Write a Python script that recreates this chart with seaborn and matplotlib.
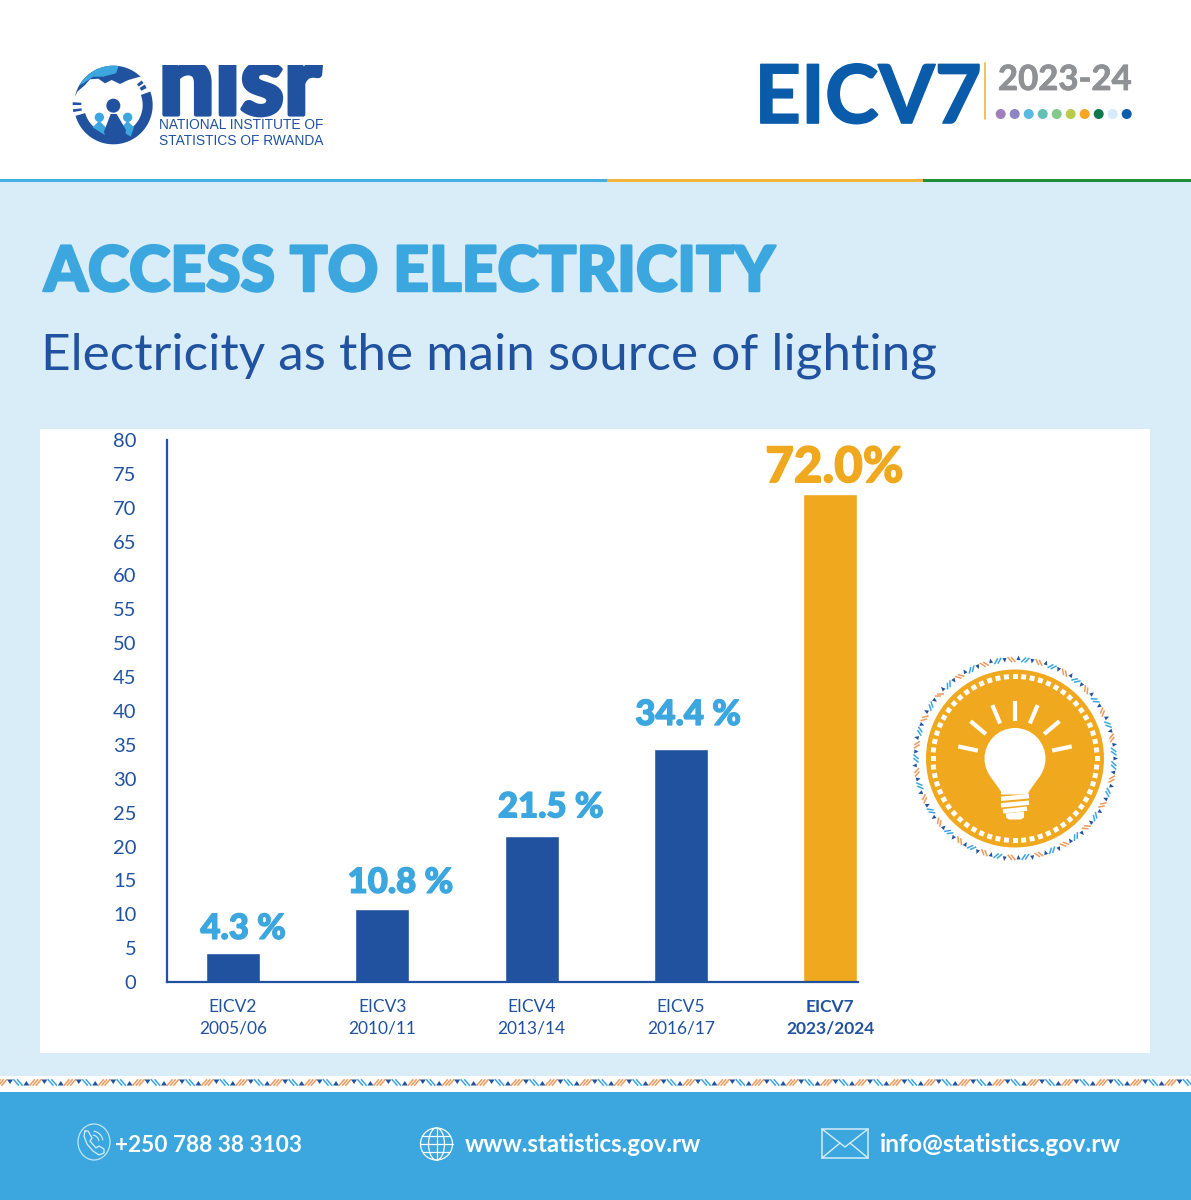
import numpy as np
import pandas as pd
import matplotlib
matplotlib.use("Agg")
import matplotlib.pyplot as plt
import matplotlib.patheffects as pe
from matplotlib.patches import Circle, Ellipse, Polygon, Rectangle
from matplotlib.transforms import Affine2D
import seaborn as sns

# Survey results
surveys = ["EICV2", "EICV3", "EICV4", "EICV5", "EICV7"]
periods = ["2005/06", "2010/11", "2013/14", "2016/17", "2023/2024"]
electricity_share = [4.3, 10.8, 21.5, 34.4, 72.0]
y_ticks = list(range(0, 85, 5))

# Nudges for the value labels, in pixels from each bar's top centre
label_dx = [10, 18, 19, 7, 4]
label_dy = [-8, -10, -13, -18, -4]

# Palette
NAVY = "#2152a0"
SKY = "#3ca6df"
PALE = "#d8edf8"
AMBER = "#f0a81f"
ROYAL = "#0a5cab"
ORANGE_STRIPE = "#ee9a5c"
DOT_COLOURS = ["#a07fbd", "#8d84c5", "#5bb8e0", "#62c0b5", "#82c98a",
               "#bcca4b", "#f6a623", "#0a7a4d", "#d4ecf9", "#0b5cab"]

sns.set_theme(style="white")
plt.rcParams["font.family"] = ["Lato", "DejaVu Sans"]

W, H = 1191, 1200
fig = plt.figure(figsize=(W / 100, H / 100), dpi=100, facecolor="white")

# Page layer, measured in pixels from the top-left corner
page = fig.add_axes([0, 0, 1, 1])
page.set_xlim(0, W)
page.set_ylim(H, 0)
page.axis("off")


def thick(colour, width):
    return [pe.withStroke(linewidth=width, foreground=colour)]


def rect(x0, y0, x1, y1, colour, z=1):
    page.add_patch(Rectangle((x0, y0), x1 - x0, y1 - y0, fc=colour, ec="none", zorder=z))


def arc_band(cx, cy, r_out, r_in, a0, a1):
    t = np.radians(np.linspace(a0, a1, 50))
    outer = np.c_[cx + r_out * np.cos(t), cy - r_out * np.sin(t)]
    inner = np.c_[cx + r_in * np.cos(t[::-1]), cy - r_in * np.sin(t[::-1])]
    return np.vstack([outer, inner])


# Page bands
rect(0, 182, W, 1076, PALE)
rect(0, 179, 607, 182, "#45aee4", 2)
rect(607, 179, 923, 182, "#f3b33d", 2)
rect(923, 179, W, 182, "#1f8f3a", 2)
rect(40, 429, 1150, 1053, "white")
rect(0, 1092, W, H, SKY)


def strokes(cx, cy, lean, colour, offsets, size=4.0):
    # Short parallel strokes of the woven band
    for dx in offsets:
        page.plot([cx + dx + lean * size, cx + dx - lean * size],
                  [cy + size * 0.8, cy - size * 0.8],
                  color=colour, lw=1.1, solid_capstyle="butt", zorder=3)


# Woven strip above the footer
for x in np.arange(-8, W + 30, 34.4):
    page.add_patch(Polygon([(x - 3, 1085.5), (x + 3, 1085.5), (x, 1081)], fc=NAVY, ec="none", zorder=3))
    strokes(x + 9, 1082.5, -0.7, ORANGE_STRIPE, (-3.2, 0, 3.2))
    page.add_patch(Polygon([(x + 15, 1079.5), (x + 21, 1079.5), (x + 18, 1084)], fc=NAVY, ec="none", zorder=3))
    strokes(x + 26, 1082.5, 0.7, SKY, (-1.8, 1.8))

# Institute emblem, laid out on a 3:1 grid
emblem = Affine2D().scale(1 / 3).translate(40, 30) + page.transData
ecx, ecy = 220, 225


def emblem_poly(points, colour, z=3):
    page.add_patch(Polygon(points, closed=True, fc=colour, ec="none", zorder=z, transform=emblem))


emblem_poly(arc_band(ecx, ecy, 118, 88, 196, 360 + 20), NAVY)
for a0, a1 in ((27, 33), (36, 41)):
    emblem_poly(arc_band(ecx, ecy, 112, 94, a0, a1), NAVY)
for a0, a1 in ((186, 190), (176, 180)):
    emblem_poly(arc_band(ecx, ecy, 122, 96, a0, a1), NAVY)
dome_arc = arc_band(ecx, ecy, 118, 118, 45, 168)[:50]
emblem_poly(np.vstack([dome_arc, [(112, 185), (135, 165), (150, 148), (175, 146), (195, 160),
                                  (215, 150), (240, 162), (265, 150), (300, 140)]]), NAVY)
light_arc = arc_band(ecx, ecy, 118, 118, 83, 150)[:50]
emblem_poly(np.vstack([light_arc, [(130, 160), (160, 140), (190, 140), (228, 130), (236, 108)]]), SKY, 4)
for hx in (178, 263):
    page.add_patch(Circle((hx, 262), 14, fc=SKY, ec="none", zorder=4, transform=emblem))
emblem_poly([(158, 292), (178, 272), (205, 300), (205, 322)], SKY, 4)
emblem_poly([(282, 292), (262, 272), (240, 300), (272, 320)], SKY, 4)
page.add_patch(Circle((220, 227), 21, fc=NAVY, ec="none", zorder=5, transform=emblem))
emblem_poly([(192, 305), (212, 252), (230, 252), (258, 300), (250, 338), (200, 338)], NAVY, 5)

# Wordmark: the letters share one flat top edge
page.text(240, 86, "nisr", color=NAVY, fontsize=71, fontweight="black", ha="center", va="center",
          zorder=3, path_effects=thick(NAVY, 3))
rect(150, 20, 335, 64.5, "white", 4)
page.text(241, 125, "NATIONAL INSTITUTE OF", color=NAVY, fontsize=9.9, family="Liberation Sans",
          ha="center", va="center", zorder=3)
page.text(241, 141, "STATISTICS OF RWANDA", color=NAVY, fontsize=9.9, family="Liberation Sans",
          ha="center", va="center", zorder=3)

# Survey badge
page.text(868, 100, "EICV7", color=ROYAL, fontsize=58.3, fontweight="bold", ha="center", va="center", zorder=3,
          path_effects=thick(ROYAL, 1.2))
page.plot([985, 985], [63, 119], color="#f3b33d", lw=1.2, zorder=3)
page.text(1065, 80, "2023-24", color="#8f9194", fontsize=25, fontweight="bold", ha="center", va="center", zorder=3,
          path_effects=thick("#8f9194", 0.6))
for x, c in zip(np.linspace(1000.7, 1126.7, len(DOT_COLOURS)), DOT_COLOURS):
    page.add_patch(Circle((x, 114), 5, fc=c, ec="none", zorder=3))

# Headings
page.text(44, 273, "ACCESS TO ELECTRICITY", color=SKY, fontsize=45, fontweight="black",
          ha="left", va="center", zorder=3, path_effects=thick(SKY, 1.8))
page.text(41, 356, "Electricity as the main source of lighting", color=NAVY, fontsize=36.9,
          fontweight="normal", ha="left", va="center", zorder=3)

# Medallion with the light bulb
mx, my = 1015, 758.5
page.add_patch(Circle((mx, my), 89, fc=AMBER, ec="none", zorder=3))
for a in np.radians(np.arange(0, 360, 6)):
    x, y = mx + 82 * np.cos(a), my + 82 * np.sin(a)
    page.add_patch(Rectangle((-2.5, -2.5), 5, 5, fc="white", ec="none", zorder=4,
                             transform=Affine2D().rotate(a).translate(x, y) + page.transData))
for k, a in enumerate(np.arange(0, 360, 4)):
    t = np.radians(a)
    kind = k % 4
    if kind in (0, 2):
        # Small triangles, alternately pointing out and in
        tip, base = (103, 98.5) if kind == 0 else (96.5, 101)
        page.add_patch(Polygon([(mx + tip * np.cos(t), my + tip * np.sin(t)),
                                (mx + base * np.cos(t - 0.02), my + base * np.sin(t - 0.02)),
                                (mx + base * np.cos(t + 0.02), my + base * np.sin(t + 0.02))],
                               fc=NAVY, ec="none", zorder=3))
    else:
        colour = SKY if kind == 1 else ORANGE_STRIPE
        slope = -50 if kind == 1 else 50
        for off in (-1.0, 1.0):
            t2 = np.radians(a + off)
            xc, yc = mx + 99 * np.cos(t2), my + 99 * np.sin(t2)
            d = np.radians(a + 90 + slope)
            page.plot([xc - 3.4 * np.cos(d), xc + 3.4 * np.cos(d)],
                      [yc - 3.4 * np.sin(d), yc + 3.4 * np.sin(d)],
                      color=colour, lw=1.1, solid_capstyle="butt", zorder=3)
for a in (12, 40, 67, 90, 113, 140, 168):
    t = np.radians(a)
    page.plot([mx + 38 * np.cos(t), mx + 58 * np.cos(t)],
              [my - 38 * np.sin(t), my - 58 * np.sin(t)],
              color="white", lw=3, solid_capstyle="butt", zorder=5)
page.add_patch(Circle((mx, my), 30.5, fc="white", ec="none", zorder=5))
page.add_patch(Polygon([(mx - 26, my + 16), (mx + 26, my + 16), (mx + 14, my + 33), (mx + 13, my + 36),
                        (mx - 14, my + 36), (mx - 14, my + 33)], fc="white", ec="none", zorder=5))
for dy, half in ((39, 14), (45.5, 14), (51.5, 12)):
    page.plot([mx - half, mx + half], [my + dy + 1.3, my + dy - 1.3], color="white", lw=3.2,
              solid_capstyle="butt", zorder=5)
page.add_patch(Polygon([(mx - 9, my + 55), (mx + 9, my + 53), (mx + 9, my + 59), (mx + 6, my + 61),
                        (mx - 6, my + 61), (mx - 9, my + 59)], fc="white", ec="none", zorder=5))

# Footer contact line
FOOT_Y = 1144
page.text(115, FOOT_Y + 2, "+250 788 38 3103", color="white", fontsize=16.3, fontweight="bold", va="center", zorder=3)
page.text(465, FOOT_Y, "www.statistics.gov.rw", color="white", fontsize=17.25, fontweight="bold", va="center", zorder=3)
page.text(880, FOOT_Y, "info@statistics.gov.rw", color="white", fontsize=17.7, fontweight="bold", va="center", zorder=3)

# Phone icon
page.add_patch(Ellipse((94, 1142), 32, 36, fc="none", ec="#bfe6f8", lw=0.9, zorder=3))
page.plot([85, 84, 87, 93, 99, 104, 104, 99, 96, 90, 92, 88, 85],
          [1131, 1136, 1144, 1151, 1155, 1153, 1149, 1146, 1148, 1141, 1138, 1131, 1131],
          color="#d5effb", lw=0.9, zorder=3)
t = np.radians(np.linspace(10, 80, 20))
for r in (7, 11):
    page.plot(92 + r * np.cos(t), 1142 - r * np.sin(t), color="#d5effb", lw=0.8, zorder=3)

# Globe icon
gx, gy, gr = 436.5, 1144, 16
page.add_patch(Ellipse((gx, gy), 2 * gr, 2 * gr, fc="none", ec="white", lw=0.9, zorder=3))
page.add_patch(Ellipse((gx, gy), gr, 2 * gr, fc="none", ec="white", lw=0.9, zorder=3))
page.plot([gx, gx], [gy - gr, gy + gr], color="white", lw=0.9, zorder=3)
page.plot([gx - gr, gx + gr], [gy, gy], color="white", lw=0.9, zorder=3)
for off in (-8, 8):
    half = np.sqrt(gr ** 2 - off ** 2)
    page.plot([gx - half, gx + half], [gy + off, gy + off], color="white", lw=0.9, zorder=3)

# Envelope icon
page.add_patch(Rectangle((822, 1129), 46, 29, fc="none", ec="#d5effb", lw=1.1, zorder=3))
page.plot([822, 845, 868], [1129, 1147, 1129], color="#d5effb", lw=1.0, zorder=3)
page.plot([822, 840], [1158, 1143], color="#d5effb", lw=1.0, zorder=3)
page.plot([868, 850], [1158, 1143], color="#d5effb", lw=1.0, zorder=3)

# Bar chart
table = pd.DataFrame({"survey": surveys, "period": periods, "share": electricity_share})
left, right, top, bottom = 167, 857.5, 440, 982
ax = fig.add_axes([left / W, (H - bottom) / H, (right - left) / W, (bottom - top) / H])
ax.patch.set_alpha(0)
bar_colours = [NAVY] * (len(surveys) - 1) + [AMBER]
sns.barplot(data=table, x="survey", y="share", hue="survey", palette=bar_colours, legend=False,
            width=0.36, saturation=1, ax=ax)
ax.set_xlim(-0.442, 4.182)
ax.set_ylim(0, 80)
ax.set_xlabel("")
ax.set_ylabel("")
ax.set_yticks(y_ticks)
ax.set_xticks(range(len(surveys)))
ax.set_xticklabels([f"{s}\n{p}" for s, p in zip(surveys, periods)], linespacing=1.45)
ax.tick_params(axis="y", length=0, pad=22, labelsize=14.5, labelcolor=NAVY)
ax.tick_params(axis="x", length=0, pad=12, labelsize=12.5, labelcolor=NAVY)
ax.get_xticklabels()[-1].set_fontweight("bold")
sns.despine(ax=ax)
for side in ("left", "bottom"):
    ax.spines[side].set_color(NAVY)
    ax.spines[side].set_linewidth(1.6)

# Value labels above the bars
for i, v in enumerate(electricity_share):
    is_latest = i == len(electricity_share) - 1
    colour = AMBER if is_latest else SKY
    ax.annotate(f"{v:.1f}%" if is_latest else f"{v:.1f} %", (i, v),
                xytext=(label_dx[i] * 0.72, -label_dy[i] * 0.72),
                textcoords="offset points", ha="center", va="bottom", color=colour,
                fontweight="black", fontsize=35.5 if is_latest else 25,
                path_effects=thick(colour, 1.0))

fig.savefig("out.png", dpi=100)
